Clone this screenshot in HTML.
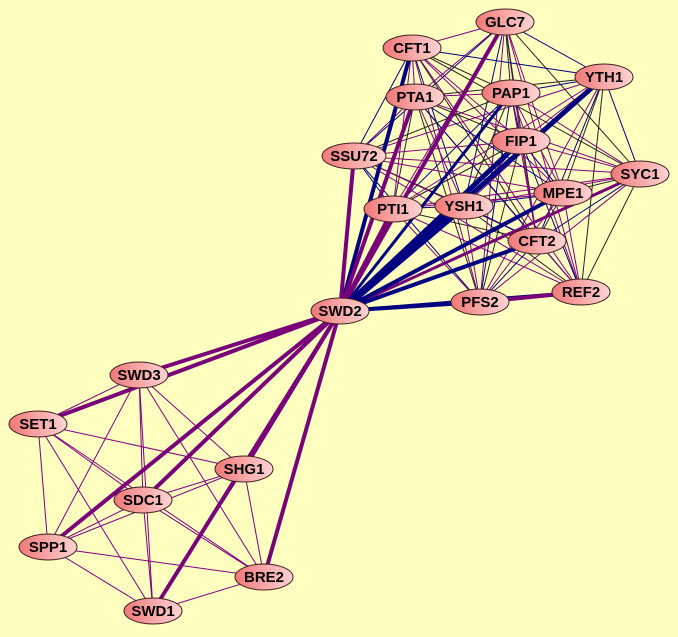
<!DOCTYPE html>
<html><head><meta charset="utf-8"><style>
html,body{margin:0;padding:0;background:#ffffc0;}
svg{display:block;}
text{font-family:"Liberation Sans",sans-serif;font-weight:bold;font-size:15px;fill:#000;}
</style></head><body>
<svg id="g" width="678" height="637" xmlns="http://www.w3.org/2000/svg">
<defs><linearGradient id="ng" x1="0" x2="1" y1="0" y2="0"><stop offset="0" stop-color="#f07878"/><stop offset="1" stop-color="#ffd4d4"/></linearGradient></defs>
<rect width="678" height="637" fill="#ffffc0"/>
<g id="e"></g><g id="n"></g>
</svg>
<script>
(function(){
var N={GLC7:[505,22],CFT1:[412,48],YTH1:[604,77],PAP1:[511,93],PTA1:[415,97],FIP1:[521,141],SSU72:[354,156],SYC1:[640,174],MPE1:[563,193],PTI1:[393,209],YSH1:[464,206],CFT2:[537,241],REF2:[581,292],PFS2:[480,302],SWD2:[340,311],SWD3:[139,375],SET1:[38,424],SHG1:[244,469],SDC1:[143,500],SPP1:[48,547],BRE2:[264,577],SWD1:[153,611]};
var ns="http://www.w3.org/2000/svg",E=document.getElementById('e'),G=document.getElementById('n');
function line(a,b,c,w){var l=document.createElementNS(ns,'line');l.setAttribute('x1',N[a][0]);l.setAttribute('y1',N[a][1]);l.setAttribute('x2',N[b][0]);l.setAttribute('y2',N[b][1]);l.setAttribute('stroke',c);l.setAttribute('stroke-width',w);E.appendChild(l);}
var topN=['GLC7','CFT1','YTH1','PAP1','PTA1','FIP1','SSU72','SYC1','MPE1','PTI1','YSH1','CFT2','REF2','PFS2'];
var cols=['#800080','#000080','#222222','#800080'];
var k=0;
for(var i=0;i<topN.length;i++)for(var j=i+1;j<topN.length;j++){line(topN[i],topN[j],cols[k%4],1);k++;}
var bot=['SWD3','SET1','SHG1','SDC1','SPP1','BRE2','SWD1'];
for(var i=0;i<bot.length;i++)for(var j=i+1;j<bot.length;j++){line(bot[i],bot[j],'#800080',1);}
var P='#780078',B='#000080';
var sw={GLC7:[P,4],CFT1:[B,4],PAP1:[B,3],PTA1:[P,4],FIP1:[B,5],SSU72:[P,4],YTH1:[B,5],SYC1:[P,3],MPE1:[B,4],PTI1:[P,4],YSH1:[B,7],CFT2:[B,4],REF2:[B,3],PFS2:[B,4],SWD3:[P,4],SET1:[P,4],SHG1:[P,4],SDC1:[P,4],SPP1:[P,4],BRE2:[P,4],SWD1:[P,4]};
for(var t in sw)line('SWD2',t,sw[t][0],sw[t][1]);
line('REF2','PFS2',P,4);
for(var t in N){var x=N[t][0],y=N[t][1];var el=document.createElementNS(ns,'ellipse');el.setAttribute('cx',x);el.setAttribute('cy',y);el.setAttribute('rx',t.length>4?32:29);el.setAttribute('ry',13);el.setAttribute('fill','url(#ng)');el.setAttribute('stroke','#402020');el.setAttribute('stroke-width',1);G.appendChild(el);
var tx=document.createElementNS(ns,'text');tx.setAttribute('x',x);tx.setAttribute('y',y+5);tx.setAttribute('text-anchor','middle');tx.textContent=t;G.appendChild(tx);}
})();
</script>
</body></html>
